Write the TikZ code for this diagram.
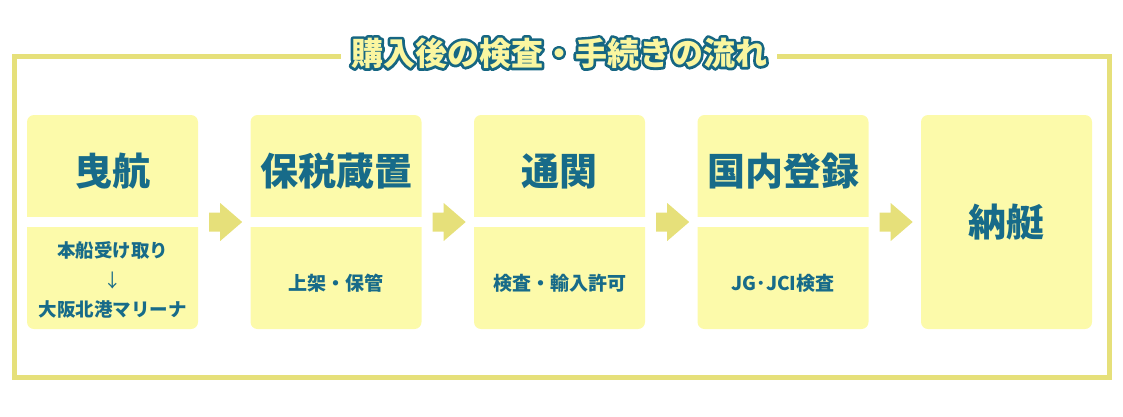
\documentclass[tikz,border=0pt]{standalone}
\usepackage{fontspec}
\setmainfont{Noto Sans CJK JP}
\usetikzlibrary{calc}
\definecolor{boxfill}{RGB}{252,250,170}
\definecolor{linecol}{RGB}{230,224,122}
\definecolor{txt}{RGB}{23,107,137}
\definecolor{ttlfill}{RGB}{250,246,160}
\definecolor{ttlline}{RGB}{22,102,130}
\newcommand{\strokeon}{\special{pdf:literal direct 2 Tr 5.4 w 1 j 0.086 0.4 0.51 RG}}
\newcommand{\strokeoff}{\special{pdf:literal direct 0 Tr}}
\begin{document}
\begin{tikzpicture}[x=1pt,y=-1pt,
 box/.style={fill=boxfill, rounded corners=7pt, draw=none, minimum width=171pt, minimum height=214pt, inner sep=0pt},
 head/.style={font=\bfseries\fontsize{38}{40}\selectfont, text=txt, inner sep=0pt},
 sub/.style={font=\bfseries\fontsize{19}{29.5}\selectfont, text=txt, inner sep=0pt, align=center},
 subone/.style={sub, font=\bfseries\fontsize{18.5}{29.5}\selectfont},
 ttl/.style={font=\bfseries\fontsize{32}{34}\selectfont, inner sep=0pt},
 gapband/.style={fill=white},
 arr/.style={fill=linecol},
 frame/.style={draw=linecol, line width=5pt},
]
\useasboundingbox (0,0) rectangle (1123,416);
% frame
\coordinate (fl) at (341,56.5);
\coordinate (fr) at (777,56.5);
\draw[frame] (fl) -- (14,56.5) -- (14,377.5) -- (1109,377.5) -- (1109,56.5) -- (fr);
% title: outlined copy below, yellow copy above
\coordinate (tc) at (559,53);
\node[ttl, text=ttlline] (titleoutline) at (tc) {\strokeon 購入後の検査・手続きの流れ\strokeoff};
\node[ttl, text=ttlfill] (title) at (tc) {購入後の検査・手続きの流れ};
% boxes
\foreach \i/\x in {1/112.5,2/336,3/559.5,4/783,5/1006.5}
  \node[box] (b\i) at (\x,222) {};
\foreach \i in {1,2,3,4} {
  \fill[gapband] ($(b\i.west)+(-1,-4.6)$) rectangle ($(b\i.east)+(1,4.6)$);
  \fill[arr] ($(b\i.east)+(11,-9.5)$) -- ($(b\i.east)+(22,-9.5)$) -- ($(b\i.east)+(22,-19)$)
     -- ($(b\i.east)+(44,0)$) -- ($(b\i.east)+(22,19)$) -- ($(b\i.east)+(22,9.5)$)
     -- ($(b\i.east)+(11,9.5)$) -- cycle;
}
% headings
\node[head] (h1) at (112.5,171) {曳航};
\node[head] (h2) at (336,171) {保税蔵置};
\node[head] (h3) at (559.5,171) {通関};
\node[head] (h4) at (783,171) {国内登録};
\node[head] (h5) at (1006.5,222) {納艇};
% sub texts
\node[subone] (s1) at (112.5,280) {本船受け取り\\{\mdseries ↓}\\大阪北港マリーナ};
\node[sub] (s2) at (336,283) {上架・保管};
\node[sub] (s3) at (559.5,283) {検査・輸入許可};
\node[sub] (s4) at (783,283) {JG･JCI検査};
\end{tikzpicture}
\end{document}
